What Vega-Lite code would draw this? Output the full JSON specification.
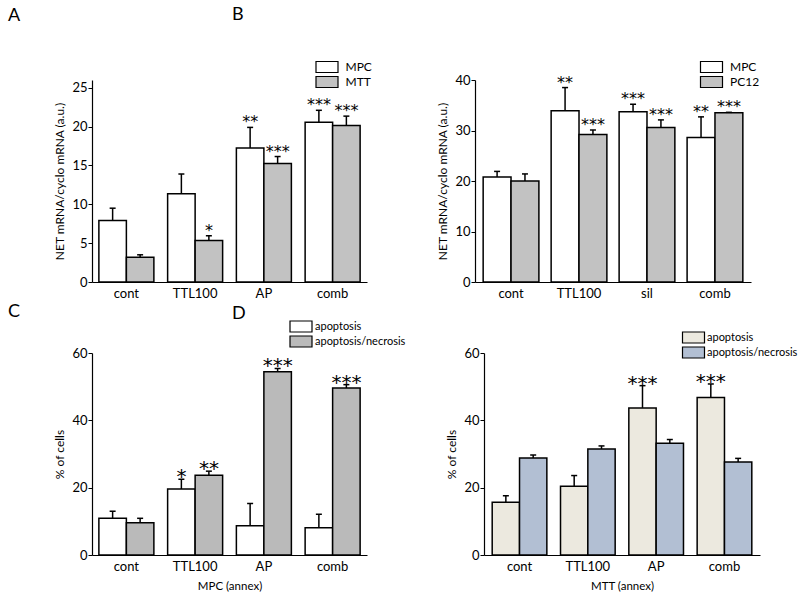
{
  "$schema": "https://vega.github.io/schema/vega-lite/v6.json",
  "autosize": "none",
  "padding": {"left": 92, "top": 80, "right": 708, "bottom": 521},
  "config": {
    "view": {"stroke": null},
    "font": "Lato",
    "axis": {"domainColor": "black", "tickColor": "black", "labelColor": "black", "titleColor": "black", "grid": false, "labelFont": "Lato", "titleFont": "Lato", "titleFontWeight": "normal", "domainWidth": 1.2, "tickWidth": 1},
    "axisX": {"ticks": false, "labelAngle": 0, "labelFontSize": 13, "labelPadding": 5, "titleFontSize": 11.5, "titlePadding": 7},
    "axisY": {"labelFontSize": 13, "labelPadding": 1, "titleFontSize": 12, "titlePadding": 5},
    "title": {"fontSize": 18, "fontWeight": "normal", "anchor": "start", "frame": "group", "baseline": "alphabetic", "font": "Lato", "color": "black"},
    "legend": {"orient": "none", "title": null, "symbolType": "M-2,-1H2V1H-2Z", "symbolSize": 121, "symbolStrokeColor": "black", "symbolStrokeWidth": 1.2, "symbolOpacity": 1, "labelFont": "Lato", "labelColor": "black", "padding": 0, "rowPadding": -2}
  },
  "resolve": {"scale": {"fill": "independent", "xOffset": "independent"}, "legend": {"fill": "independent"}},
  "spacing": 3,
  "vconcat": [
    {
      "spacing": 108,
      "bounds": "flush",
      "resolve": {"scale": {"fill": "independent", "xOffset": "independent"}, "legend": {"fill": "independent"}},
      "hconcat": [
        {
          "width": 275,
          "height": 202,
          "title": {"text": "A", "dx": -84, "offset": 35.5},
          "data": {"values": [
            {"group": "cont", "series": "MPC", "mean": 7.9, "upper": 9.5, "sig": ""},
            {"group": "cont", "series": "MTT", "mean": 3.2, "upper": 3.5, "sig": ""},
            {"group": "TTL100", "series": "MPC", "mean": 11.35, "upper": 13.9, "sig": ""},
            {"group": "TTL100", "series": "MTT", "mean": 5.35, "upper": 5.95, "sig": "*"},
            {"group": "AP", "series": "MPC", "mean": 17.25, "upper": 19.9, "sig": "**"},
            {"group": "AP", "series": "MTT", "mean": 15.25, "upper": 16.15, "sig": "***"},
            {"group": "comb", "series": "MPC", "mean": 20.55, "upper": 22.1, "sig": "***"},
            {"group": "comb", "series": "MTT", "mean": 20.15, "upper": 21.35, "sig": "***"}
          ]},
          "encoding": {
            "x": {"field": "group", "type": "nominal", "sort": ["cont", "TTL100", "AP", "comb"], "scale": {"paddingInner": 0.2, "paddingOuter": 0.1}, "title": null},
            "xOffset": {"field": "series", "type": "nominal", "sort": ["MPC", "MTT"]}
          },
          "layer": [
            {
              "mark": {"type": "bar", "stroke": "black", "strokeWidth": 1.5},
              "encoding": {
                "y": {"field": "mean", "type": "quantitative", "scale": {"domain": [0, 25]}, "title": "NET mRNA/cyclo mRNA (a.u.)",
                  "axis": {"values": [0, 2.5, 5, 7.5, 10, 12.5, 15, 17.5, 20, 22.5, 25], "labelExpr": "datum.value % 5 === 0 ? datum.label : ''", "tickSize": {"condition": {"test": "datum.value % 5 === 0", "value": 4}, "value": 2}}},
                "fill": {"field": "series", "type": "nominal", "scale": {"domain": ["MPC", "MTT"], "range": ["#ffffff", "#c2c2c2"]},
                  "legend": {"legendX": 228.5, "legendY": -19.5, "labelFontSize": 12, "labelOffset": 12}}
              }
            },
            {"mark": {"type": "rule", "strokeWidth": 1.5, "color": "black"}, "encoding": {"y": {"field": "mean", "type": "quantitative"}, "y2": {"field": "upper"}}},
            {"mark": {"type": "tick", "thickness": 1.5, "size": 6, "color": "black", "opacity": 1}, "encoding": {"y": {"field": "upper", "type": "quantitative"}}},
            {"mark": {"type": "text", "font": "DejaVu Sans", "fontSize": 16, "baseline": "alphabetic", "dy": 0, "fill": "black"}, "encoding": {"y": {"field": "upper", "type": "quantitative"}, "text": {"field": "sig"}}}
          ]
        },
        {
          "width": 276,
          "height": 202,
          "title": {"text": "B", "dx": -243, "offset": 36.5},
          "data": {"values": [
            {"group": "cont", "series": "MPC", "mean": 20.8, "upper": 21.9, "sig": ""},
            {"group": "cont", "series": "PC12", "mean": 20.0, "upper": 21.4, "sig": ""},
            {"group": "TTL100", "series": "MPC", "mean": 33.9, "upper": 38.5, "sig": "**"},
            {"group": "TTL100", "series": "PC12", "mean": 29.2, "upper": 30.1, "sig": "***"},
            {"group": "sil", "series": "MPC", "mean": 33.7, "upper": 35.2, "sig": "***"},
            {"group": "sil", "series": "PC12", "mean": 30.6, "upper": 32.1, "sig": "***"},
            {"group": "comb", "series": "MPC", "mean": 28.6, "upper": 32.7, "sig": "**"},
            {"group": "comb", "series": "PC12", "mean": 33.5, "upper": 33.6, "sig": "***"}
          ]},
          "encoding": {
            "x": {"field": "group", "type": "nominal", "sort": ["cont", "TTL100", "sil", "comb"], "scale": {"paddingInner": 0.18, "paddingOuter": 0.12}, "title": null},
            "xOffset": {"field": "series", "type": "nominal", "sort": ["MPC", "PC12"]}
          },
          "layer": [
            {
              "mark": {"type": "bar", "stroke": "black", "strokeWidth": 1.5},
              "encoding": {
                "y": {"field": "mean", "type": "quantitative", "scale": {"domain": [0, 40]}, "title": "NET mRNA/cyclo mRNA (a.u.)",
                  "axis": {"values": [0, 5, 10, 15, 20, 25, 30, 35, 40], "labelExpr": "datum.value % 10 === 0 ? datum.label : ''", "tickSize": {"condition": {"test": "datum.value % 10 === 0", "value": 4}, "value": 2}}},
                "fill": {"field": "series", "type": "nominal", "scale": {"domain": ["MPC", "PC12"], "range": ["#ffffff", "#c2c2c2"]},
                  "legend": {"legendX": 230, "legendY": -19.5, "labelFontSize": 12, "labelOffset": 12}}
              }
            },
            {"mark": {"type": "rule", "strokeWidth": 1.5, "color": "black"}, "encoding": {"y": {"field": "mean", "type": "quantitative"}, "y2": {"field": "upper"}}},
            {"mark": {"type": "tick", "thickness": 1.5, "size": 6, "color": "black", "opacity": 1}, "encoding": {"y": {"field": "upper", "type": "quantitative"}}},
            {"mark": {"type": "text", "font": "DejaVu Sans", "fontSize": 16, "baseline": "alphabetic", "dy": 0, "fill": "black"}, "encoding": {"y": {"field": "upper", "type": "quantitative"}, "text": {"field": "sig"}}}
          ]
        }
      ]
    },
    {
      "spacing": 117,
      "bounds": "flush",
      "resolve": {"scale": {"fill": "independent", "xOffset": "independent"}, "legend": {"fill": "independent"}},
      "hconcat": [
        {
          "width": 275,
          "height": 202,
          "title": {"text": "C", "dx": -84, "offset": -1},
          "data": {"values": [
            {"group": "cont", "series": "apoptosis", "mean": 10.9, "upper": 13.0, "sig": ""},
            {"group": "cont", "series": "apoptosis/necrosis", "mean": 9.6, "upper": 10.9, "sig": ""},
            {"group": "TTL100", "series": "apoptosis", "mean": 19.6, "upper": 22.5, "sig": "*"},
            {"group": "TTL100", "series": "apoptosis/necrosis", "mean": 23.7, "upper": 24.9, "sig": "**"},
            {"group": "AP", "series": "apoptosis", "mean": 8.7, "upper": 15.3, "sig": ""},
            {"group": "AP", "series": "apoptosis/necrosis", "mean": 54.4, "upper": 55.4, "sig": "***"},
            {"group": "comb", "series": "apoptosis", "mean": 8.1, "upper": 12.1, "sig": ""},
            {"group": "comb", "series": "apoptosis/necrosis", "mean": 49.6, "upper": 50.6, "sig": "***"}
          ]},
          "encoding": {
            "x": {"field": "group", "type": "nominal", "sort": ["cont", "TTL100", "AP", "comb"], "scale": {"paddingInner": 0.2, "paddingOuter": 0.1}, "title": "MPC (annex)"},
            "xOffset": {"field": "series", "type": "nominal", "sort": ["apoptosis", "apoptosis/necrosis"]}
          },
          "layer": [
            {
              "mark": {"type": "bar", "stroke": "black", "strokeWidth": 1.5},
              "encoding": {
                "y": {"field": "mean", "type": "quantitative", "scale": {"domain": [0, 60]}, "title": "% of cells",
                  "axis": {"values": [0, 5, 10, 15, 20, 25, 30, 35, 40, 45, 50, 55, 60], "labelExpr": "datum.value % 10 === 0 ? datum.label : ''", "tickSize": {"condition": {"test": "datum.value % 10 === 0", "value": 4}, "value": 2}}},
                "fill": {"field": "series", "type": "nominal", "scale": {"domain": ["apoptosis", "apoptosis/necrosis"], "range": ["#ffffff", "#bababa"]},
                  "legend": {"legendX": 202.5, "legendY": -33, "labelFontSize": 11, "labelOffset": 7.5, "rowPadding": -4}}
              }
            },
            {"mark": {"type": "rule", "strokeWidth": 1.5, "color": "black"}, "encoding": {"y": {"field": "mean", "type": "quantitative"}, "y2": {"field": "upper"}}},
            {"mark": {"type": "tick", "thickness": 1.5, "size": 6, "color": "black", "opacity": 1}, "encoding": {"y": {"field": "upper", "type": "quantitative"}}},
            {"mark": {"type": "text", "font": "DejaVu Sans", "fontSize": 20, "baseline": "alphabetic", "dy": 4, "fill": "black"}, "encoding": {"y": {"field": "upper", "type": "quantitative"}, "text": {"field": "sig"}}}
          ]
        },
        {
          "width": 276,
          "height": 202,
          "title": {"text": "D", "dx": -252, "offset": 8},
          "data": {"values": [
            {"group": "cont", "series": "apoptosis", "mean": 15.7, "upper": 17.6, "sig": ""},
            {"group": "cont", "series": "apoptosis/necrosis", "mean": 28.8, "upper": 29.7, "sig": ""},
            {"group": "TTL100", "series": "apoptosis", "mean": 20.4, "upper": 23.6, "sig": ""},
            {"group": "TTL100", "series": "apoptosis/necrosis", "mean": 31.5, "upper": 32.4, "sig": ""},
            {"group": "AP", "series": "apoptosis", "mean": 43.7, "upper": 50.3, "sig": "***"},
            {"group": "AP", "series": "apoptosis/necrosis", "mean": 33.2, "upper": 34.3, "sig": ""},
            {"group": "comb", "series": "apoptosis", "mean": 46.8, "upper": 50.8, "sig": "***"},
            {"group": "comb", "series": "apoptosis/necrosis", "mean": 27.6, "upper": 28.7, "sig": ""}
          ]},
          "encoding": {
            "x": {"field": "group", "type": "nominal", "sort": ["cont", "TTL100", "AP", "comb"], "scale": {"paddingInner": 0.2, "paddingOuter": 0.12}, "title": "MTT (annex)"},
            "xOffset": {"field": "series", "type": "nominal", "sort": ["apoptosis", "apoptosis/necrosis"]}
          },
          "layer": [
            {
              "mark": {"type": "bar", "stroke": "black", "strokeWidth": 1.5},
              "encoding": {
                "y": {"field": "mean", "type": "quantitative", "scale": {"domain": [0, 60]}, "title": "% of cells",
                  "axis": {"values": [0, 5, 10, 15, 20, 25, 30, 35, 40, 45, 50, 55, 60], "labelExpr": "datum.value % 10 === 0 ? datum.label : ''", "tickSize": {"condition": {"test": "datum.value % 10 === 0", "value": 4}, "value": 2}}},
                "fill": {"field": "series", "type": "nominal", "scale": {"domain": ["apoptosis", "apoptosis/necrosis"], "range": ["#ece9df", "#b2bfd3"]},
                  "legend": {"legendX": 203, "legendY": -22, "labelFontSize": 11, "labelOffset": 7, "rowPadding": -4}}
              }
            },
            {"mark": {"type": "rule", "strokeWidth": 1.5, "color": "black"}, "encoding": {"y": {"field": "mean", "type": "quantitative"}, "y2": {"field": "upper"}}},
            {"mark": {"type": "tick", "thickness": 1.5, "size": 6, "color": "black", "opacity": 1}, "encoding": {"y": {"field": "upper", "type": "quantitative"}}},
            {"mark": {"type": "text", "font": "DejaVu Sans", "fontSize": 20, "baseline": "alphabetic", "dy": 4, "fill": "black"}, "encoding": {"y": {"field": "upper", "type": "quantitative"}, "text": {"field": "sig"}}}
          ]
        }
      ]
    }
  ]
}
